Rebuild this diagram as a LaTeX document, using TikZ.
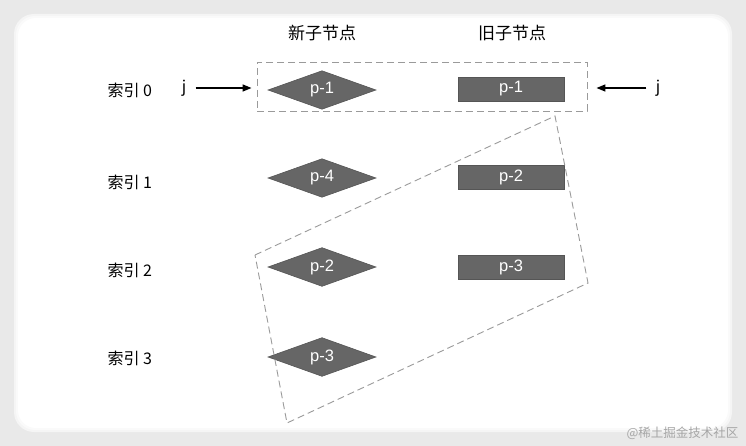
\documentclass[tikz,border=0pt]{standalone}
\usepackage{fontspec}
\setmainfont{Liberation Sans}
\newfontfamily\cjk{Noto Sans CJK SC}
\usetikzlibrary{shapes.geometric,arrows.meta}
\definecolor{boxgray}{HTML}{666666}
\definecolor{boxedge}{HTML}{555555}
\definecolor{dashgray}{HTML}{9A9A9A}
\definecolor{bggray}{HTML}{E9E9E9}
\tikzset{
  newnode/.style={diamond, fill=boxgray, draw=boxedge, line width=0.6pt, minimum width=108pt, minimum height=30pt, inner sep=0pt, text=white, font=\fontsize{16.5}{16.5}\selectfont},
  oldnode/.style={rectangle, fill=boxgray, draw=boxedge, line width=0.6pt, minimum width=106pt, minimum height=24pt, inner sep=0pt, text=white, font=\fontsize{16.5}{16.5}\selectfont},
  rowlabel/.style={anchor=west, font=\cjk\fontsize{16}{16}\selectfont},
  header/.style={font=\cjk\fontsize{17}{17}\selectfont},
  groupbox/.style={draw=dashgray, dashed, dash pattern=on 7pt off 4pt, line width=0.9pt, inner sep=0pt},
  jlabel/.style={font=\cjk\fontsize{16}{16}\selectfont},
  pointer/.style={-{Triangle[length=9pt,width=7pt]}, line width=1.4pt, black}
}
\begin{document}
\begin{tikzpicture}[x=1pt,y=-1pt]
\useasboundingbox (0,0) rectangle (746,446);
\fill[bggray] (0,0) rectangle (746,446);
\fill[black!4, rounded corners=20pt] (14,14) rectangle (732,432);
\fill[black!2, rounded corners=19pt] (16,16) rectangle (730,430);
\fill[white, rounded corners=18pt] (18,18) rectangle (728,428);

% headers
\node[header] (hnew) at (322,33) {新子节点};
\node[header] (hold) at (512,33) {旧子节点};

% row labels
\node[rowlabel] (r0) at (104,90) {索引 0};
\node[rowlabel] (r1) at (104,182) {索引 1};
\node[rowlabel] (r2) at (104,270) {索引 2};
\node[rowlabel] (r3) at (104,358) {索引 3};

% new child nodes
\node[newnode] (n0) at (322,90) {p-1};
\node[newnode] (n1) at (322,178) {p-4};
\node[newnode] (n2) at (322,267) {p-2};
\node[newnode] (n3) at (322,357) {p-3};

% old child nodes
\node[oldnode] (o0) at (511,89) {p-1};
\node[oldnode] (o1) at (511,177) {p-2};
\node[oldnode] (o2) at (511,267) {p-3};

% group boxes
\node[groupbox, rectangle, minimum width=330pt, minimum height=49pt] (top) at (422,86.5) {};
\coordinate (t1) at (255,255);
\coordinate (t2) at (555,116);
\coordinate (t3) at (588,283);
\coordinate (t4) at (287,423);
\draw[groupbox] (t1) -- (t2) -- (t3) -- (t4) -- cycle;

% j pointers
\node[jlabel] (jl) at (184,88) {j};
\node[jlabel] (jr) at (658,88) {j};
\draw[pointer] (jl.east) ++(6,0) coordinate (jls) -- (jls -| top.west) [shorten >=5pt];
\draw[pointer] (jr.west) ++(-6,0) coordinate (jrs) -- (jrs -| top.east) [shorten >=9pt];

% watermark
\node[anchor=east, text=black!35, font=\cjk\fontsize{12.5}{12.5}\selectfont] (wm) at (742,433) {@稀土掘金技术社区};
\end{tikzpicture}
\end{document}
